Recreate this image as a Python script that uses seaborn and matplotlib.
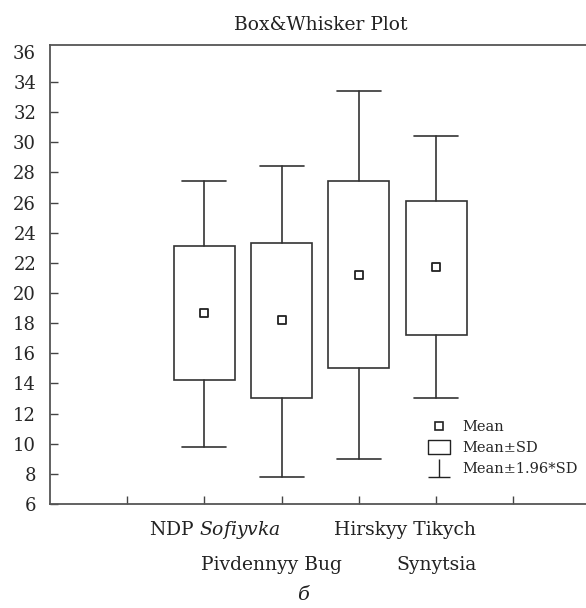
import numpy as np
import pandas as pd
import matplotlib
matplotlib.use('Agg')
import matplotlib.pyplot as plt
from matplotlib.lines import Line2D
from matplotlib.path import Path
import seaborn as sns

# values (Mean, Mean±SD, Mean±1.96*SD)
sites = ['NDP Sofiyvka', 'Pivdennyy Bug', 'Hirskyy Tikych', 'Synytsia']
site_pos = [1, 2, 3, 4]
means = [18.7, 18.2, 21.2, 21.7]
sd_low = [14.2, 13.0, 15.0, 17.2]
sd_high = [23.1, 23.3, 27.4, 26.1]
ci_low = [9.8, 7.8, 9.0, 13.0]
ci_high = [27.4, 28.4, 33.4, 30.4]
yticks = list(range(6, 37, 2))

sns.set_style('ticks')
plt.rcParams['font.family'] = ['DejaVu Serif']
plt.rcParams['mathtext.fontset'] = 'dejavuserif'

line_c = '#333333'

fig = plt.figure(figsize=(5.86, 6.08), dpi=100)
ax = fig.add_axes([50/586, 104/608, 540.6/586, 459/608])

stats = []
for i in range(len(sites)):
    stats.append(dict(med=means[i], q1=sd_low[i], q3=sd_high[i],
                      whislo=ci_low[i], whishi=ci_high[i], fliers=[]))

ax.bxp(stats, positions=site_pos, widths=0.79, capwidths=0.57,
       showfliers=False, patch_artist=True,
       boxprops=dict(facecolor='white', edgecolor=line_c, linewidth=1.2),
       whiskerprops=dict(color=line_c, linewidth=1.2),
       capprops=dict(color=line_c, linewidth=1.2),
       medianprops=dict(visible=False))

df = pd.DataFrame({'pos': site_pos, 'mean': means})
sns.scatterplot(data=df, x='pos', y='mean', ax=ax, marker='s', s=26,
                facecolor='white', edgecolor='#222222', linewidth=1.3, zorder=5)

ax.set_xlim(-1, 6)
ax.set_ylim(6, 36.45)
ax.set_xticks(range(0, 6))
ax.set_xticklabels([])
ax.set_yticks(yticks)
ax.set_yticklabels([str(v) for v in yticks], fontsize=13)
ax.yaxis.get_major_ticks()[-1].tick1line.set_visible(False)
ax.tick_params(direction='in', length=5.5, width=1, color='#444444', pad=10)
ax.tick_params(axis='x', pad=0)
ax.set_xlabel('')
ax.set_ylabel('')
for sp in ax.spines.values():
    sp.set_color('#555555')
    sp.set_linewidth(1.3)

# category labels in two staggered rows
label_names = [r'NDP $\mathit{Sofiyvka}$', 'Pivdennyy Bug', 'Hirskyy Tikych', 'Synytsia']
label_shift = [0.14, -0.13, 0.6, 0.0]
label_row = [-0.057, -0.133, -0.057, -0.133]
for p, name, dx, ry in zip(site_pos, label_names, label_shift, label_row):
    ax.text(p + dx, ry, name, transform=ax.get_xaxis_transform(),
            ha='center', va='center', fontsize=13.5, color='#222222')

ax.set_title('Box&Whisker Plot', fontsize=13.5, pad=11, color='#222222')
fig.text(303/586, 1 - 595/608, 'б', ha='center', va='center',
         fontsize=14, style='italic', color='#222222')

# legend
rect_path = Path([(-1, -0.6), (1, -0.6), (1, 0.6), (-1, 0.6), (-1, -0.6)],
                 [Path.MOVETO, Path.LINETO, Path.LINETO, Path.LINETO, Path.CLOSEPOLY])
whisk_path = Path([(-1, -0.8), (1, -0.8), (0, -0.8), (0, 0.8)],
                  [Path.MOVETO, Path.LINETO, Path.MOVETO, Path.LINETO])
handles = [
    Line2D([], [], ls='none', marker='s', ms=5.5, mfc='white', mec='#222222', mew=1.2),
    Line2D([], [], ls='none', marker=rect_path, ms=16, mfc='white', mec='#222222', mew=1.0),
    Line2D([], [], ls='none', marker=whisk_path, ms=16, mfc='none', mec='#222222', mew=1.0),
]
ax.legend(handles, ['Mean', 'Mean±SD', 'Mean±1.96*SD'], loc='center left',
          bbox_to_anchor=(420/586, 1 - 448/608), bbox_transform=fig.transFigure,
          frameon=False, borderpad=0, handlelength=1.6, handletextpad=0.8,
          labelspacing=0.5, prop={'size': 10.5})

fig.savefig('out.png', dpi=100)
